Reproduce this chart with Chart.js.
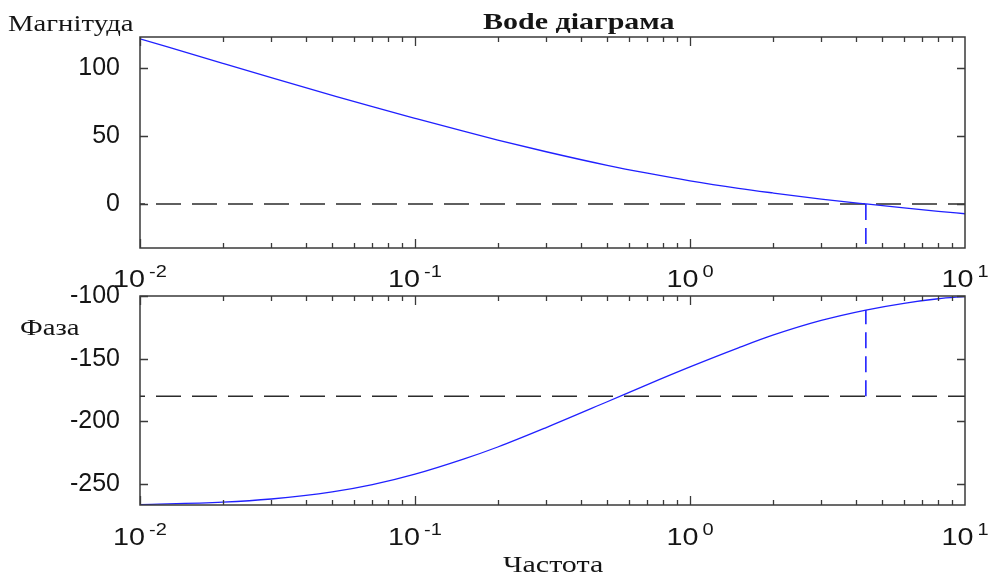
<!DOCTYPE html>
<html>
<head>
<meta charset="utf-8">
<script src="https://cdn.jsdelivr.net/npm/chart.js@4.4.0/dist/chart.umd.min.js"></script>
<style>
  html, body { margin: 0; padding: 0; background: #fff; }
  #wrap { position: relative; width: 989px; height: 577px; }
  #wrap canvas { position: absolute; left: 0; top: 0; }
</style>
</head>
<body>
<div id="wrap">
  <canvas id="chart-mag" width="989" height="577"></canvas>
  <canvas id="chart-phase" width="989" height="577"></canvas>
</div>
<script>
// bode data
var freq = [0.01, 0.02, 0.03, 0.05, 0.07, 0.1, 0.15, 0.2, 0.3, 0.5, 0.7, 1, 1.5, 2, 3, 4.36, 6, 8, 10];
var magnitude = [121.5, 103.4, 92.9, 79.9, 71.5, 63.0, 53.5, 47.0, 38.4, 28.4, 22.6, 17.0, 11.5, 8.1, 3.6, 0, -2.9, -5.4, -7.2];
var phase = [-266.5, -264.5, -262.0, -256.4, -250.6, -242.2, -230.2, -220.5, -205.0, -184.4, -170.7, -156.6, -141.4, -131.3, -119.5, -111.2, -105.8, -102.2, -100.4];

var crossFreq = 4.36;       // magnitude crosses 0
var phaseAtCross = -111.2;
var magLevel = 0;
var phaseLevel = -180;

var magRange = [-32.4, 122.8];
var phaseRange = [-266.8, -100];

var xTicks = [0.01, 0.1, 1, 10];
var xTickExp = ["-2", "-1", "0", "1"];
var magTicks = [0, 50, 100];
var phaseTicks = [-250, -200, -150, -100];

var SX = 1.25; // picture text looks stretched sideways
var blue = "#2020ff";
var dark = "#2b2b2b";

function wideText(ctx, text, x, y, font, align) {
  ctx.save();
  ctx.font = font;
  var w = ctx.measureText(text).width * SX;
  var left = align === "center" ? x - w / 2 : (align === "right" ? x - w : x);
  ctx.translate(left, y);
  ctx.scale(SX, 1);
  ctx.textAlign = "left";
  ctx.textBaseline = "alphabetic";
  ctx.fillText(text, 0, 0);
  ctx.restore();
  return w;
}

var bodeDecor = {
  id: "bodeDecor",
  afterDraw: function (chart, args, opts) {
    var ctx = chart.ctx, a = chart.chartArea;
    var x = chart.scales.x, y = chart.scales.y;
    ctx.save();
    ctx.strokeStyle = "#3a3a3a";
    ctx.lineWidth = 1.5;
    ctx.strokeRect(a.left, a.top, a.right - a.left, a.bottom - a.top);

    // inward ticks, log minor ones too
    ctx.lineWidth = 1.3;
    ctx.beginPath();
    for (var d = -2; d <= 0; d++) {
      for (var m = 1; m <= 9; m++) {
        var px = Math.round(x.getPixelForValue(m * Math.pow(10, d))) + 0.5;
        var len = m === 1 ? 9 : 5;
        ctx.moveTo(px, a.bottom); ctx.lineTo(px, a.bottom - len);
        ctx.moveTo(px, a.top); ctx.lineTo(px, a.top + len);
      }
    }
    opts.yTicks.forEach(function (v) {
      var py = Math.round(y.getPixelForValue(v)) + 0.5;
      ctx.moveTo(a.left, py); ctx.lineTo(a.left + 8, py);
      ctx.moveTo(a.right, py); ctx.lineTo(a.right - 8, py);
    });
    ctx.stroke();

    // x labels 10^n
    ctx.fillStyle = "#151515";
    xTicks.forEach(function (v, i) {
      var px = x.getPixelForValue(v);
      ctx.font = "23px 'Liberation Sans'";
      var w1 = ctx.measureText("10").width * SX;
      ctx.font = "16px 'Liberation Sans'";
      var w2 = ctx.measureText(xTickExp[i]).width * SX;
      var left = px - (w1 + 4 + w2) / 2;
      wideText(ctx, "10", left, opts.labelBase, "23px 'Liberation Sans'", "left");
      wideText(ctx, xTickExp[i], left + w1 + 4, opts.labelBase - 10, "16px 'Liberation Sans'", "left");
    });

    opts.texts.forEach(function (t) {
      wideText(ctx, t.text, t.x, t.y, t.font, "left");
    });
    ctx.restore();
  }
};

function bodeOptions(pad, range, yTicks, labelBase, texts) {
  return {
    responsive: false,
    animation: false,
    layout: { padding: pad },
    plugins: {
      legend: { display: false },
      tooltip: { enabled: false },
      bodeDecor: { yTicks: yTicks, labelBase: labelBase, texts: texts }
    },
    scales: {
      x: { type: "logarithmic", min: 0.01, max: 10, display: false },
      y: {
        min: range[0],
        max: range[1],
        grid: { display: false, drawTicks: false },
        border: { display: false },
        afterBuildTicks: function (s) { s.ticks = yTicks.map(function (v) { return { value: v }; }); },
        afterFit: function (s) { s.width = 140; },
        ticks: {
          padding: 20,
          color: "#151515",
          font: { size: 25, family: "'Liberation Sans'" }
        }
      }
    }
  };
}

function pts(xs, ys) {
  return xs.map(function (f, i) { return { x: f, y: ys[i] }; });
}

var last = freq.length - 1;

new Chart(document.getElementById("chart-mag").getContext("2d"), {
  type: "line",
  data: {
    datasets: [
      {
        data: pts(freq, magnitude),
        borderColor: blue,
        borderWidth: 1.3,
        pointRadius: 0,
        cubicInterpolationMode: "monotone"
      },
      {
        data: pts([freq[0], freq[last]], [magLevel, magLevel]),
        borderColor: dark,
        borderWidth: 1.5,
        borderDash: [25, 11],
        borderDashOffset: 20,
        pointRadius: 0
      },
      {
        data: pts([crossFreq, crossFreq], [magLevel, magRange[0]]),
        borderColor: blue,
        borderWidth: 1.6,
        borderDash: [16, 8],
        pointRadius: 0
      }
    ]
  },
  options: bodeOptions({ top: 37, right: 24, bottom: 577 - 248, left: 0 }, magRange, magTicks, 287, [
    { text: "Bode діаграма", x: 483, y: 29, font: "bold 24px 'Liberation Serif'" },
    { text: "Магнітуда", x: 8, y: 31, font: "23px 'Liberation Serif'" }
  ]),
  plugins: [bodeDecor]
});

new Chart(document.getElementById("chart-phase").getContext("2d"), {
  type: "line",
  data: {
    datasets: [
      {
        data: pts(freq, phase),
        borderColor: blue,
        borderWidth: 1.3,
        pointRadius: 0,
        cubicInterpolationMode: "monotone"
      },
      {
        data: pts([freq[0], freq[last]], [phaseLevel, phaseLevel]),
        borderColor: dark,
        borderWidth: 1.5,
        borderDash: [25, 11],
        borderDashOffset: 20,
        pointRadius: 0
      },
      {
        data: pts([crossFreq, crossFreq], [phaseLevel, phaseAtCross]),
        borderColor: blue,
        borderWidth: 1.6,
        borderDash: [16, 8],
        pointRadius: 0
      }
    ]
  },
  options: bodeOptions({ top: 296, right: 24, bottom: 577 - 505, left: 0 }, phaseRange, phaseTicks, 545, [
    { text: "Фаза", x: 20, y: 335, font: "23px 'Liberation Serif'" },
    { text: "Частота", x: 503, y: 572, font: "24px 'Liberation Serif'" }
  ]),
  plugins: [bodeDecor]
});
</script>
</body>
</html>
